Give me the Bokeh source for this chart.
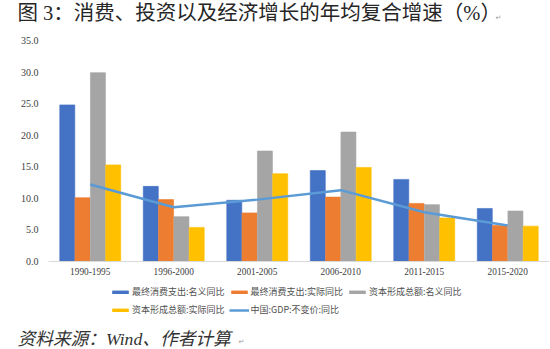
import numpy as np
from bokeh.plotting import figure
from bokeh.models import (Range1d, ColumnDataSource, Legend, LegendItem, Label)
from bokeh.core.properties import value
from bokeh.embed import file_html
from bokeh.resources import INLINE

periods = ["1990-1995", "1996-2000", "2001-2005", "2006-2010", "2011-2015", "2015-2020"]
consumption_nominal = [24.8, 11.9, 9.7, 14.4, 13.0, 8.4]
consumption_real = [10.1, 9.8, 7.7, 10.2, 9.2, 5.7]
capital_nominal = [29.9, 7.1, 17.5, 20.5, 9.0, 8.0]
capital_real = [15.3, 5.4, 13.9, 14.9, 6.9, 5.6]
gdp_real = [12.2, 8.6, 9.8, 11.3, 7.8, 5.7]
y_ticks = [0, 5, 10, 15, 20, 25, 30, 35]

series_names = ["最终消费支出:名义同比", "最终消费支出:实际同比", "资本形成总额:名义同比", "资本形成总额:实际同比"]
gdp_name = "中国:GDP:不变价:同比"
colors = ["#4472C4", "#ED7D31", "#A5A5A5", "#FFC000"]
line_color = "#5B9BD5"

W, H = 550, 349
plot_left, plot_right = 48, 549   # canvas columns of the category axis
axis_px, top_px = 261, 40         # canvas rows of value 0 and of value 35
n = len(periods)
cat_w = (plot_right - plot_left) / n
ppu = (axis_px - top_px) / 35.0

x_center = np.arange(n) + 0.5
src = ColumnDataSource(dict(period=periods, x=x_center, c_nom=consumption_nominal,
                            c_real=consumption_real, k_nom=capital_nominal, k_real=capital_real,
                            gdp=gdp_real, zero=[0] * n))

p = figure(width=W, height=H,
           x_range=Range1d(-plot_left / cat_w, (W - plot_left) / cat_w),
           y_range=Range1d(-(H - axis_px) / ppu, 35 + top_px / ppu),
           output_backend="svg", toolbar_location=None,
           x_axis_location=None, y_axis_location=None,
           min_border=0)
p.outline_line_color = None
p.xgrid.grid_line_color = None
p.ygrid.grid_line_color = None

cols = ["c_nom", "c_real", "k_nom", "k_real"]
offsets = [-0.275, -0.092, 0.092, 0.275]
bar_renderers = []
for col, off, c in zip(cols, offsets, colors):
    r = p.vbar(x=x_center + off, top=src.data[col], bottom=0, width=0.18,
               fill_color=c, line_color=c, line_alpha=0.6)
    bar_renderers.append(r)
line_r = p.line(x="x", y="gdp", source=src, line_color=line_color, line_width=2.5)

# category axis line at value 0
p.segment(x0=[0], y0=[0], x1=[n], y1=[0], line_color="#D9D9D9", line_width=1)

# category tick labels
p.text(x="x", y="zero", text="period", source=src, y_offset=6,
       text_align="center", text_baseline="top",
       text_font=value("Liberation Serif"), text_font_size="9.3px", text_color="#404040")

# value tick labels
ysrc = ColumnDataSource(dict(y=y_ticks, x=[0] * len(y_ticks), t=[f"{v:.1f}" for v in y_ticks]))
p.text(x="x", y="y", text="t", source=ysrc, x_offset=-10,
       text_align="right", text_baseline="middle",
       text_font=value("Liberation Serif"), text_font_size="10px", text_color="#404040")

leg_font = "Noto Sans CJK SC"
row1 = Legend(items=[LegendItem(label=series_names[i], renderers=[bar_renderers[i]]) for i in range(3)],
              orientation="horizontal", location=(110, 51))
row2 = Legend(items=[LegendItem(label=series_names[3], renderers=[bar_renderers[3]]),
                     LegendItem(label=gdp_name, renderers=[line_r])],
              orientation="horizontal", location=(110, 33))
for lg in (row1, row2):
    lg.background_fill_alpha = 0
    lg.border_line_color = None
    lg.label_text_font = leg_font
    lg.label_text_font_size = "9px"
    lg.label_text_color = "#505050"
    lg.glyph_width = 20
    lg.glyph_height = 4
    lg.label_standoff = 2
    lg.spacing = 4
    lg.padding = 0
    lg.margin = 0
    lg.label_height = 10
    p.add_layout(lg, "center")

mixed_font = "'Liberation Serif', 'Noto Sans CJK SC'"
title = Label(x=17, y=H - 12, x_units="screen", y_units="screen",
              text="图 3：消费、投资以及经济增长的年均复合增速（%）",
              text_font=mixed_font, text_font_size="20.5px", text_color="#262626",
              text_baseline="middle")
p.add_layout(title)
title_mark = Label(x=495, y=H - 17, x_units="screen", y_units="screen", text="↵",
                   text_font="DejaVu Sans", text_font_size="7px", text_color="#999999",
                   text_baseline="middle")
p.add_layout(title_mark)

source_lbl = Label(x=17, y=H - 338, x_units="screen", y_units="screen",
                   text="资料来源：Wind、作者计算",
                   text_font=mixed_font, text_font_size="17.7px", text_font_style="italic",
                   text_color="#333333", text_baseline="middle")
p.add_layout(source_lbl)
source_mark = Label(x=238, y=H - 341, x_units="screen", y_units="screen", text="↵",
                    text_font="DejaVu Sans", text_font_size="7px", text_color="#999999",
                    text_baseline="middle")
p.add_layout(source_mark)

open("out.html", "w").write(file_html(p, INLINE))
